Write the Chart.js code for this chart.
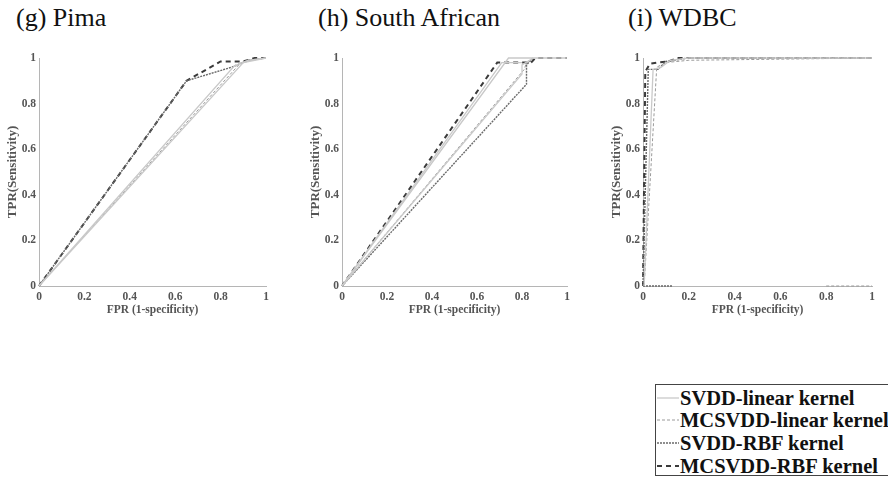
<!DOCTYPE html>
<html><head><meta charset="utf-8">
<script src="https://cdn.jsdelivr.net/npm/chart.js@4.4.1/dist/chart.umd.min.js"></script>
<style>
html,body{margin:0;padding:0;background:#fff;width:888px;height:480px;overflow:hidden;position:relative;font-family:'Liberation Serif','Times New Roman',serif}
.ttl{position:absolute;top:3px;font-size:26px;color:#111;white-space:nowrap;line-height:30px}
canvas{position:absolute}
#legend{position:absolute;left:655px;top:384px;width:245px;height:92px;border:1.5px solid #444;box-sizing:border-box;background:#fff}
.row{position:absolute;left:0;height:20px;display:flex;align-items:center;font-weight:bold;font-size:20.5px;white-space:nowrap;color:#111}
.row svg{width:24px;height:6px;flex:none}
</style></head><body>
<div class="ttl" style="left:16px">(g) Pima</div>
<div class="ttl" style="left:318px">(h) South African</div>
<div class="ttl" style="left:628px">(i) WDBC</div>
<canvas id="c1"></canvas>
<canvas id="c2"></canvas>
<canvas id="c3"></canvas>
<div id="legend"></div>
<script>
// ---------- data ----------
const seriesNames = ['SVDD-linear kernel','MCSVDD-linear kernel','SVDD-RBF kernel','MCSVDD-RBF kernel'];
const panelTitles = ['(g) Pima','(h) South African','(i) WDBC'];
const xTicks = [0,0.2,0.4,0.6,0.8,1];
const yTicks = [0,0.2,0.4,0.6,0.8,1];

// Pima
const pimaSvddLinFpr = [0,0.86,0.92,1];
const pimaSvddLinTpr = [0,0.965,0.99,1];
const pimaSvddLin2Fpr = [0,0.9,1];
const pimaSvddLin2Tpr = [0,0.98,1];
const pimaMcLinFpr = [0,0.88,0.93,1];
const pimaMcLinTpr = [0,0.97,0.99,1];
const pimaSvddRbfFpr = [0,0.65,0.85,0.92,1];
const pimaSvddRbfTpr = [0,0.9,0.96,0.99,1];
const pimaMcRbfFpr = [0,0.65,0.8,0.9,0.95,1];
const pimaMcRbfTpr = [0,0.9,0.985,0.985,1,1];

// South African
const saSvddLinFpr = [0,0.74,1];
const saSvddLinTpr = [0,1,1];
const saSvddLin2Fpr = [0,0.8,0.8,0.85];
const saSvddLin2Tpr = [0,0.93,0.97,1];
const saSvddLin3Fpr = [0,0.71,0.8];
const saSvddLin3Tpr = [0,0.98,0.98];
const saMcLinFpr = [0,0.81,0.82,0.85];
const saMcLinTpr = [0,0.95,0.98,1];
const saSvddRbfFpr = [0,0.82,0.82,0.85];
const saSvddRbfTpr = [0,0.885,0.97,1];
const saMcRbfFpr = [0,0.69,0.84,0.86,1];
const saMcRbfTpr = [0,0.98,0.98,1,1];

// WDBC
const wdSvddLinFpr = [0.005,0.044,0.08,0.12,0.2,1];
const wdSvddLinTpr = [0,0.95,0.96,0.99,1,1];
const wdMcLinFpr = [0.005,0.06,0.1,0.2,1];
const wdMcLinTpr = [0,0.96,0.98,0.99,1];
const wdSvddRbfFpr = [0,0.023,0.066,0.1,0.2,1];
const wdSvddRbfTpr = [0,0.95,0.95,0.985,1,1];
const wdMcRbfFpr = [0,0.01,0.03,0.06,0.11,0.15,1];
const wdMcRbfTpr = [0,0.94,0.975,0.98,0.985,1,1];
const wdBaseDotFpr = [0,0.13];
const wdBaseDotTpr = [0,0];
const wdBaseDashFpr = [0.8,1];
const wdBaseDashTpr = [0,0];

// ---------- styles ----------
const STY = [
  {borderColor:'#c9c9c9', borderWidth:1.3, borderDash:[]},
  {borderColor:'#9a9a9a', borderWidth:1, borderDash:[3,2]},
  {borderColor:'#6a6a6a', borderWidth:1.4, borderDash:[2,1]},
  {borderColor:'#3a3a3a', borderWidth:2, borderDash:[5,4]}
];
function ds(fpr,tpr,s){
  return Object.assign({
    data: fpr.map((x,i)=>({x:x,y:tpr[i]})),
    showLine:true, pointRadius:0, fill:false, clip:4, tension:0
  }, STY[s]);
}
const panels = [
  {id:'c1', x0:39, x1:266, sets:[
    ds(pimaSvddLinFpr,pimaSvddLinTpr,0), ds(pimaSvddLin2Fpr,pimaSvddLin2Tpr,0),
    ds(pimaMcLinFpr,pimaMcLinTpr,1), ds(pimaSvddRbfFpr,pimaSvddRbfTpr,2),
    ds(pimaMcRbfFpr,pimaMcRbfTpr,3)]},
  {id:'c2', x0:342, x1:567, sets:[
    ds(saSvddLinFpr,saSvddLinTpr,0), ds(saSvddLin2Fpr,saSvddLin2Tpr,0),
    ds(saSvddLin3Fpr,saSvddLin3Tpr,0),
    ds(saMcLinFpr,saMcLinTpr,1), ds(saSvddRbfFpr,saSvddRbfTpr,2),
    ds(saMcRbfFpr,saMcRbfTpr,3)]},
  {id:'c3', x0:643, x1:872, sets:[
    ds(wdSvddLinFpr,wdSvddLinTpr,0), ds(wdMcLinFpr,wdMcLinTpr,1),
    ds(wdSvddRbfFpr,wdSvddRbfTpr,2), ds(wdMcRbfFpr,wdMcRbfTpr,3),
    ds(wdBaseDotFpr,wdBaseDotTpr,2), ds(wdBaseDashFpr,wdBaseDashTpr,1)]}
];

const FAM = "'Liberation Serif','Times New Roman',serif";
const TOP = 48, PLOT_TOP = 58, PLOT_BOTTOM = 286, AXW = 40, AXH = 31, RPAD = 12;

panels.forEach(p=>{
  const cv = document.getElementById(p.id);
  const w = AXW + (p.x1 - p.x0) + RPAD;
  const h = (PLOT_BOTTOM + AXH) - TOP;
  cv.width = w; cv.height = h;
  cv.style.left = (p.x0 - AXW) + 'px'; cv.style.top = TOP + 'px';
  cv.style.width = w + 'px'; cv.style.height = h + 'px';
  new Chart(cv, {
    type:'scatter',
    data:{datasets:p.sets},
    options:{
      responsive:false, animation:false, devicePixelRatio:1,
      layout:{padding:{top:PLOT_TOP-TOP, right:RPAD, left:0, bottom:0}},
      plugins:{legend:{display:false}, tooltip:{enabled:false}},
      scales:{
        x:{type:'linear', min:0, max:1,
           afterBuildTicks:s=>{s.ticks = xTicks.map(v=>({value:v}));},
           afterFit:s=>{s.height = AXH;},
           grid:{display:true, drawOnChartArea:false, drawTicks:false},
           border:{display:true, color:'#b5b5b5', width:1},
           ticks:{padding:4, color:'#555', font:{family:FAM, size:11.5, weight:'bold'}, maxRotation:0, autoSkip:false,
                  callback:v=>String(v)},
           title:{display:true, text:'FPR (1-specificity)', color:'#555', padding:{top:0,bottom:0},
                  font:{family:FAM, size:11.5, weight:'bold'}}},
        y:{type:'linear', min:0, max:1,
           afterBuildTicks:s=>{s.ticks = yTicks.map(v=>({value:v}));},
           afterFit:s=>{s.width = AXW;},
           grid:{display:true, drawOnChartArea:false, drawTicks:false},
           border:{display:true, color:'#b5b5b5', width:1},
           ticks:{padding:3, color:'#555', font:{family:FAM, size:11.5, weight:'bold'}, autoSkip:false,
                  callback:v=>String(v)},
           title:{display:true, text:'TPR(Sensitivity)', color:'#555', padding:{top:6,bottom:0},
                  font:{family:FAM, size:13, weight:'bold'}}}
      }
    }
  });
});

// ---------- legend ----------
const leg = document.getElementById('legend');
const rowCenters = [13, 35, 58, 81];
seriesNames.forEach((name,i)=>{
  const r = document.createElement('div');
  r.className = 'row';
  r.style.top = (rowCenters[i]-10) + 'px';
  const s = STY[i];
  r.innerHTML = '<svg viewBox="0 0 24 6"><line x1="1" y1="3" x2="23" y2="3" stroke="'+s.borderColor+
    '" stroke-width="'+s.borderWidth+'" stroke-dasharray="'+(s.borderDash.length?s.borderDash.join(','):'none')+'"/></svg>';
  const t = document.createElement('span');
  t.textContent = name;
  r.appendChild(t);
  leg.appendChild(r);
});
</script>
</body></html>
